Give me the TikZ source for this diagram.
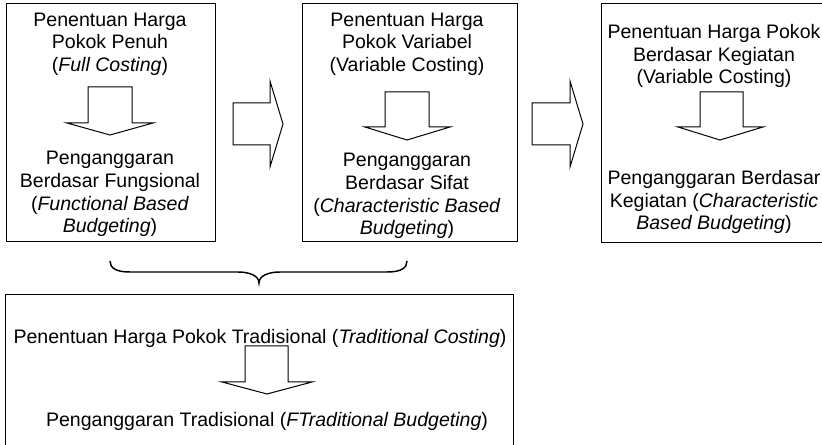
\documentclass[tikz,border=0pt]{standalone}
\usepackage{fontspec}
\setmainfont{Liberation Sans}

\tikzset{every picture/.style={line width=0.75pt}}
\tikzset{txt/.style={align=center, inner sep=0.75pt, font=\fontsize{14.65}{17}\selectfont}}

\begin{document}
\begin{tikzpicture}[x=0.75pt,y=0.75pt,yscale=-1,xscale=1]
%set diagram to the size of the page, cut the boxes that run past the edge
\clip (0,0) rectangle (822,445);

%Shape: Rectangle [id:full]
\draw   (6,4) -- (215,4) -- (215,242) -- (6,242) -- cycle ;
%Shape: Rectangle [id:variable]
\draw   (302,4) -- (517,4) -- (517,242) -- (302,242) -- cycle ;
%Shape: Rectangle [id:activity]
\draw   (601,4) -- (850,4) -- (850,243) -- (601,243) -- cycle ;
%Shape: Rectangle [id:traditional]
\draw   (5,295) -- (513,295) -- (513,470) -- (5,470) -- cycle ;

%Shape: Down Arrow [id:down1]
\draw   (88,87) -- (132,87) -- (132,123) -- (153,123) -- (110,135) -- (67,123) -- (88,123) -- cycle ;
%Shape: Down Arrow [id:down2]
\draw   (385,92) -- (429,92) -- (429,127) -- (450,127) -- (407,140) -- (365,127) -- (385,127) -- cycle ;
%Shape: Down Arrow [id:down3]
\draw   (700,92) -- (743,92) -- (743,127) -- (763,127) -- (720,140) -- (678,127) -- (700,127) -- cycle ;
%Shape: Down Arrow [id:down4]
\draw   (245,346) -- (288,346) -- (288,382) -- (312,382) -- (267,394) -- (222,382) -- (245,382) -- cycle ;

%Shape: Right Arrow [id:right1]
\draw   (233,103) -- (270,103) -- (270,81) -- (283,124) -- (270,167) -- (270,145) -- (233,145) -- cycle ;
%Shape: Right Arrow [id:right2]
\draw   (532,103) -- (570,103) -- (570,81) -- (583,124) -- (570,167) -- (570,145) -- (532,145) -- cycle ;

%Shape: Brace [id:brace]
\draw [line width=1.1pt]  (110,261) .. controls (110,268) and (116,272) .. (130,272) -- (238,272) .. controls (250,272) and (259,276) .. (259,283) .. controls (259,276) and (268,272) .. (280,272) -- (387,272) .. controls (401,272) and (407,268) .. (407,261) ;

% Text Node
\draw (110,44) node [txt] (costFull) {Penentuan Harga\\Pokok Penuh\\(\textit{Full Costing})};
% Text Node
\draw (110,194) node [txt] (budgetFull) {Penganggaran\\Berdasar Fungsional\\(\textit{Functional Based}\\\textit{Budgeting})};
% Text Node
\draw (407,44) node [txt] (costVar) {Penentuan Harga\\Pokok Variabel\\(Variable Costing)};
% Text Node
\draw (407,196) node [txt] (budgetVar) {Penganggaran\\Berdasar Sifat\\(\textit{Characteristic Based}\\\textit{Budgeting})};
% Text Node
\draw (714,56) node [txt] (costAct) {Penentuan Harga Pokok\\Berdasar Kegiatan\\(Variable Costing)};
% Text Node
\draw (714,202) node [txt] (budgetAct) {Penganggaran Berdasar\\Kegiatan (\textit{Characteristic}\\\textit{Based Budgeting})};
% Text Node
\draw (260,338) node [txt] (costTrad) {Penentuan Harga Pokok Tradisional (\textit{Traditional Costing})};
% Text Node
\draw (267,421) node [txt] (budgetTrad) {Penganggaran Tradisional (\textit{FTraditional Budgeting})};

\end{tikzpicture}
\end{document}
